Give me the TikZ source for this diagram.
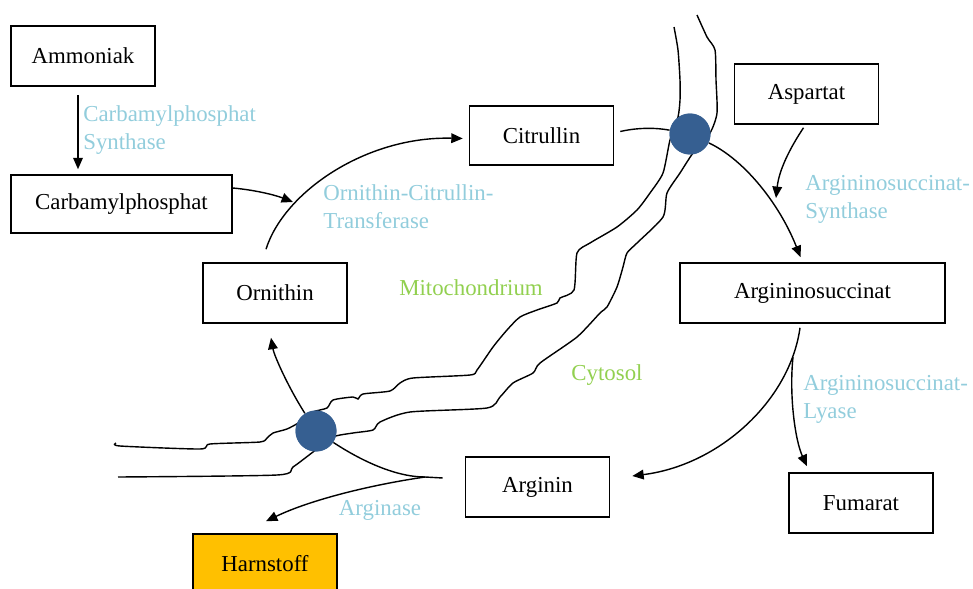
\documentclass[tikz,border=0pt]{standalone}
\usepackage{fontspec}
\setmainfont{Liberation Serif}
\usepackage{tikz}
\usetikzlibrary{arrows.meta,calc}
\definecolor{enzym}{RGB}{146,205,220}
\definecolor{raum}{RGB}{146,208,80}
\definecolor{pore}{RGB}{54,95,145}
\definecolor{harn}{RGB}{255,192,0}

\begin{document}
\begin{tikzpicture}[x=0.02cm,y=-0.02cm,
  font=\fontsize{13}{16}\selectfont,
  box/.style={draw,line width=0.9pt,minimum width=2.88cm,minimum height=1.2cm,inner sep=0pt},
  enz/.style={text=enzym,align=left,anchor=west,inner sep=0pt},
  ort/.style={text=raum,inner sep=0pt},
  porenode/.style={circle,fill=pore,minimum size=0.82cm,inner sep=0pt},
  arr/.style={line width=0.8pt,-{Triangle[length=6.5pt,width=5.5pt]}},
  lin/.style={line width=0.8pt},
  membran/.style={line width=0.8pt,smooth,tension=0.4}]
\useasboundingbox (0,0) rectangle (973,588);
% \draw [help lines] (0,0) grid (973,588);
%% Stoffe
\node[box] (ammoniak) at (83,56) {Ammoniak};
\node[box,minimum width=4.42cm,minimum height=1.16cm] (carbamyl) at (121.5,204) {Carbamylphosphat};
\node[box] (ornithin) at (275,293) {Ornithin};
\node[box,minimum height=1.18cm] (citrullin) at (541.5,135.5) {Citrullin};
\node[box] (aspartat) at (806.5,94) {Aspartat};
\node[box,minimum width=5.3cm] (argsucc) at (812.5,293) {Argininosuccinat};
\node[box] (arginin) at (537.5,487) {Arginin};
\node[box] (fumarat) at (861,503) {Fumarat};
\node[box,fill=harn] (harnstoff) at (265,564) {Harnstoff};
%% Enzyme
\node[enz] (cps) at (83,130) {Carbamylphosphat\\Synthase};
\node[enz] (otc) at (323,207) {Ornithin-Citrullin-\\Transferase};
\node[enz] (ass) at (805,199) {Argininosuccinat-\\Synthase};
\node[enz] (asl) at (803,399) {Argininosuccinat-\\Lyase};
\node[enz,anchor=center] (arginase) at (380,510) {Arginase};
\node[ort] (mito) at (471,288) {Mitochondrium};
\node[ort] (cyto) at (607,375) {Cytosol};
%% Membran
\draw[membran] plot coordinates {(674,27) (678,50) (680,80) (680,100) (678,117) (670,140)
  (663,173) (650,193) (637,210) (617,227) (590,243) (577,253) (574,290) (560,298)
  (557,303) (537,310) (520,317) (507,330) (493,347) (477,370) (470,375) (413,378)
  (400,383) (390,391) (363,394) (358,399) (353,397) (333,400) (327,408) (313,412)
  (300,422) (287,429) (273,433) (267,438) (260,442) (210,444) (200,449) (120,446) (116,443)};
\draw[membran] plot coordinates {(697,15) (707,37) (715,50) (716,80) (717,113) (710,133)
  (693,153) (680,173) (667,193) (663,217) (637,243) (627,253) (623,267) (617,287)
  (607,307) (600,313) (577,337) (540,363) (533,373) (513,383) (500,397) (487,408)
  (410,412) (380,422) (373,430) (353,433) (333,437) (313,452) (293,467) (277,475) (118,477)};
%% Zyklus
\node[porenode] (poreA) at (690,134) {};
\node[porenode] (poreB) at (316,431) {};
\coordinate (otcIn) at (293,202);
\coordinate (assIn) at (776,198);
\coordinate (lyaseOut) at (793,357);
\coordinate (ureaOut) at (425,477);
\draw[arr] ($(ammoniak.south)+(-5,8)$) -- ($(carbamyl.north -| ammoniak.south)+(-5,-5)$);
\draw[arr] ($(carbamyl.east)+(0,-16)$) .. controls (255,190) and (275,195) .. (otcIn);
\draw[arr] ($(ornithin.north)+(-9,-13)$) .. controls (284,192) and (366,136) .. ($(citrullin.west)+(-6,3)$);
\draw[lin] ($(citrullin.east)+(6,-4)$) .. controls (640,127) and (658,128) .. (poreA);
\draw[arr] (poreA) .. controls (745,160) and (780,205) .. ($(argsucc.north)+(-12,-5)$);
\draw[arr] ($(aspartat.south)+(-3,3)$) .. controls (790,148) and (779,170) .. (assIn);
\draw[arr] ($(argsucc.south)+(-12.5,4)$) .. controls (790,400) and (720,465) .. ($(arginin.east)+(22,-11)$);
\draw[arr] (lyaseOut) .. controls (789,395) and (795,440) .. ($(fumarat.north)+(-54,-6)$);
\draw[lin] ($(arginin.west)+(-22,-9)$) -- (ureaOut) .. controls (395,477) and (360,460) .. (poreB);
\draw[arr] (ureaOut) .. controls (370,485) and (310,500) .. ($(harnstoff.north)+(1,-12)$);
\draw[arr] (poreB) .. controls (287,385) and (274,355) .. ($(ornithin.south)+(-4,14)$);
% Poren oben drauf
\node[porenode] at (poreA) {};
\node[porenode] at (poreB) {};
\end{tikzpicture}
\end{document}
